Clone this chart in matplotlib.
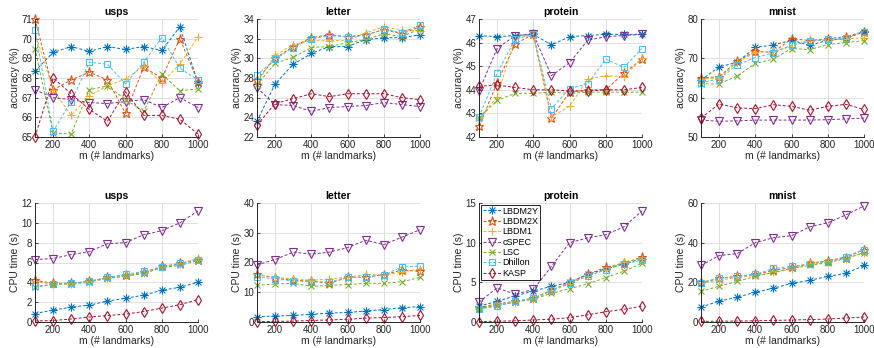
import matplotlib
matplotlib.use("Agg")
import matplotlib.pyplot as plt
from matplotlib.path import Path
import numpy as np

plt.rcParams['font.family'] = ['Liberation Sans', 'DejaVu Sans']

m = [100, 200, 300, 400, 500, 600, 700, 800, 900, 1000]
methods = ['LBDM2Y', 'LBDM2X', 'LBDM1', 'cSPEC', 'LSC', 'Dhillon', 'KASP']
datasets = ['usps', 'letter', 'protein', 'mnist']

# accuracy (%)
acc_usps = {
    'LBDM2Y': [68.35, 69.3, 69.6, 69.35, 69.6, 69.45, 69.6, 69.4, 70.6, 67.75],
    'LBDM2X': [71.0, 67.4, 67.9, 68.3, 67.9, 66.2, 68.55, 68.0, 70.0, 67.8],
    'LBDM1': [70.3, 67.4, 66.1, 67.1, 67.6, 67.95, 68.6, 67.75, 68.7, 70.1],
    'cSPEC': [67.4, 67.0, 66.9, 66.75, 66.7, 66.8, 66.9, 66.5, 67.0, 66.5],
    'LSC': [69.5, 65.2, 65.15, 67.4, 67.6, 66.9, 66.3, 68.2, 67.35, 67.45],
    'Dhillon': [70.45, 65.3, 66.8, 68.8, 68.7, 67.7, 68.8, 70.05, 68.5, 67.9],
    'KASP': [65.0, 68.0, 67.2, 66.4, 65.8, 67.3, 66.1, 66.1, 65.9, 65.15],
}
acc_letter = {
    'LBDM2Y': [23.6, 27.4, 29.4, 30.5, 31.2, 31.2, 31.9, 32.1, 32.1, 32.4],
    'LBDM2X': [27.8, 30.0, 31.2, 32.1, 32.4, 32.2, 32.4, 32.9, 32.5, 33.2],
    'LBDM1': [27.5, 30.3, 31.4, 31.8, 31.8, 31.8, 32.6, 33.2, 32.9, 32.8],
    'cSPEC': [27.0, 25.3, 25.2, 24.6, 25.0, 25.1, 25.2, 25.5, 25.3, 25.1],
    'LSC': [27.3, 29.5, 30.1, 31.1, 31.2, 31.6, 31.9, 32.5, 32.2, 33.0],
    'Dhillon': [28.3, 29.9, 31.1, 32.0, 32.3, 32.2, 32.3, 33.0, 32.6, 33.4],
    'KASP': [23.2, 25.4, 25.9, 26.4, 26.1, 26.4, 26.4, 26.4, 26.0, 25.8],
}
acc_protein = {
    'LBDM2Y': [46.3, 46.25, 46.3, 46.35, 45.9, 46.25, 46.3, 46.35, 46.35, 46.35],
    'LBDM2X': [42.45, 44.3, 45.95, 46.35, 42.8, 43.9, 44.0, 44.0, 44.7, 45.3],
    'LBDM1': [42.8, 43.7, 46.2, 46.3, 42.85, 43.3, 44.45, 44.6, 44.55, 45.35],
    'cSPEC': [43.95, 45.75, 46.3, 46.35, 44.6, 45.15, 46.1, 46.25, 46.3, 46.35],
    'LSC': [42.8, 43.55, 43.85, 43.85, 43.9, 43.85, 43.9, 43.9, 43.9, 43.9],
    'Dhillon': [42.85, 44.7, 46.15, 46.35, 43.2, 44.05, 44.25, 45.3, 44.95, 45.75],
    'KASP': [44.15, 44.2, 44.1, 44.0, 44.0, 43.95, 43.95, 44.0, 44.0, 44.1],
}
acc_mnist = {
    'LBDM2Y': [64.5, 67.8, 69.0, 72.8, 73.4, 74.6, 73.3, 74.6, 75.0, 76.8],
    'LBDM2X': [65.0, 65.3, 69.3, 71.8, 71.5, 75.0, 74.5, 75.0, 75.5, 76.8],
    'LBDM1': [64.8, 65.0, 69.0, 71.5, 71.8, 73.0, 74.8, 74.5, 75.0, 75.2],
    'cSPEC': [54.3, 54.0, 54.1, 54.3, 54.3, 54.3, 54.3, 54.4, 54.6, 54.8],
    'LSC': [63.5, 63.5, 65.5, 68.7, 69.8, 72.5, 72.2, 73.5, 74.0, 74.5],
    'Dhillon': [63.8, 64.8, 68.3, 70.2, 71.4, 73.4, 74.3, 74.8, 75.2, 76.8],
    'KASP': [54.8, 58.4, 57.4, 57.2, 58.2, 57.8, 56.8, 57.8, 58.3, 57.0],
}

# CPU time (s)
cpu_usps = {
    'LBDM2Y': [0.85, 1.2, 1.5, 1.7, 2.1, 2.4, 2.7, 3.2, 3.5, 4.0],
    'LBDM2X': [4.2, 3.9, 3.9, 4.1, 4.5, 4.7, 5.0, 5.6, 5.9, 6.3],
    'LBDM1': [4.1, 3.8, 3.8, 4.0, 4.4, 4.7, 4.9, 5.5, 5.8, 6.5],
    'cSPEC': [6.3, 6.4, 6.8, 7.1, 7.9, 8.0, 8.8, 9.2, 10.0, 11.2],
    'LSC': [3.5, 3.8, 3.9, 4.1, 4.4, 4.6, 4.9, 5.5, 5.7, 6.2],
    'Dhillon': [3.6, 3.8, 3.9, 4.1, 4.5, 4.8, 5.1, 5.5, 5.9, 6.3],
    'KASP': [0.1, 0.15, 0.3, 0.5, 0.65, 0.8, 1.05, 1.4, 1.75, 2.25],
}
cpu_letter = {
    'LBDM2Y': [1.8, 2.0, 2.2, 2.6, 3.0, 3.2, 3.7, 4.2, 4.8, 5.2],
    'LBDM2X': [16.0, 14.8, 14.0, 13.8, 13.0, 15.0, 15.2, 15.8, 17.5, 17.0],
    'LBDM1': [16.0, 15.0, 14.5, 14.0, 14.5, 15.0, 16.0, 15.8, 16.8, 17.8],
    'cSPEC': [19.2, 21.0, 23.5, 22.8, 23.5, 25.0, 27.5, 26.0, 28.5, 31.0],
    'LSC': [12.3, 12.8, 13.0, 12.0, 12.3, 12.6, 13.0, 13.0, 13.5, 15.0],
    'Dhillon': [15.2, 14.5, 13.8, 13.5, 13.5, 15.0, 15.0, 15.8, 18.5, 18.8],
    'KASP': [0.1, 0.2, 0.3, 0.5, 0.7, 0.9, 1.3, 1.5, 1.8, 2.2],
}
cpu_protein = {
    'LBDM2Y': [2.0, 2.6, 3.3, 3.9, 4.5, 5.0, 6.0, 6.7, 7.3, 8.0],
    'LBDM2X': [1.8, 2.3, 2.6, 3.0, 4.0, 5.0, 6.0, 6.9, 7.4, 8.2],
    'LBDM1': [1.7, 2.1, 2.5, 2.9, 3.9, 4.8, 5.8, 6.6, 7.6, 8.0],
    'cSPEC': [2.5, 4.3, 3.5, 4.1, 7.0, 10.0, 10.6, 11.0, 12.0, 14.0],
    'LSC': [1.7, 2.1, 2.5, 2.9, 3.6, 4.2, 4.8, 5.6, 6.4, 7.4],
    'Dhillon': [1.6, 2.0, 2.6, 3.0, 4.0, 4.9, 5.8, 6.6, 7.3, 7.8],
    'KASP': [0.05, 0.1, 0.15, 0.25, 0.35, 0.55, 0.9, 1.3, 1.6, 2.0],
}
cpu_mnist = {
    'LBDM2Y': [7.5, 10.5, 12.5, 15.0, 17.0, 19.5, 21.0, 23.0, 24.5, 28.5],
    'LBDM2X': [20.0, 22.0, 23.0, 24.0, 26.0, 27.5, 29.5, 31.0, 32.5, 36.5],
    'LBDM1': [19.5, 21.0, 22.5, 23.5, 25.0, 26.5, 29.5, 30.5, 32.0, 35.0],
    'cSPEC': [28.5, 33.5, 34.5, 40.0, 42.5, 43.5, 48.0, 50.0, 54.0, 58.5],
    'LSC': [15.5, 18.0, 20.5, 23.0, 25.0, 27.0, 28.5, 30.0, 32.0, 35.0],
    'Dhillon': [19.5, 22.0, 23.0, 24.0, 27.0, 28.0, 29.0, 30.5, 33.0, 36.5],
    'KASP': [0.3, 0.4, 0.5, 0.6, 0.8, 1.0, 1.2, 1.5, 2.0, 2.5],
}

acc_all = [acc_usps, acc_letter, acc_protein, acc_mnist]
cpu_all = [cpu_usps, cpu_letter, cpu_protein, cpu_mnist]

acc_ylim = [(65, 71), (22, 34), (42, 47), (50, 80)]
acc_yticks = [np.arange(65, 72, 1), np.arange(22, 35, 2), np.arange(42, 48, 1), np.arange(50, 81, 10)]
cpu_ylim = [(0, 12), (0, 40), (0, 15), (0, 60)]
cpu_yticks = [np.arange(0, 13, 2), np.arange(0, 41, 10), np.arange(0, 16, 5), np.arange(0, 61, 20)]

# MATLAB-like asterisk marker (+ overlaid with x)
_d = 0.707
asterisk = Path([(-1, 0), (1, 0), (0, -1), (0, 1), (-_d, -_d), (_d, _d), (-_d, _d), (_d, -_d)],
                [Path.MOVETO, Path.LINETO] * 4)

colors = {'LBDM2Y': '#0072BD', 'LBDM2X': '#D95319', 'LBDM1': '#EDB120',
          'cSPEC': '#7E2F8E', 'LSC': '#77AC30', 'Dhillon': '#4DBEEE', 'KASP': '#A2142F'}
markers = {'LBDM2Y': asterisk, 'LBDM2X': '*', 'LBDM1': '+', 'cSPEC': 'v',
           'LSC': 'x', 'Dhillon': 's', 'KASP': 'd'}
msizes = {'LBDM2Y': 6, 'LBDM2X': 6.5, 'LBDM1': 6, 'cSPEC': 5.5, 'LSC': 4, 'Dhillon': 4.5, 'KASP': 5}

W, H = 874, 348
fig = plt.figure(figsize=(W / 100, H / 100), dpi=100)

lefts = [35, 257, 479, 701]
axw = 163
rows = [(19, 137), (203, 322)]


def style(ax, ylim, yticks, ylabel, title):
    ax.set_xlim(100, 1000)
    ax.set_ylim(*ylim)
    ax.set_xticks([200, 400, 600, 800, 1000])
    ax.set_yticks(yticks)
    ax.grid(True, color='#e0e0e0', linewidth=0.7)
    ax.set_axisbelow(True)
    for s in ['top', 'right']:
        ax.spines[s].set_visible(False)
    for s in ['left', 'bottom']:
        ax.spines[s].set_color('#262626')
        ax.spines[s].set_linewidth(0.7)
    ax.tick_params(direction='in', length=2.5, width=0.6, labelsize=7,
                   colors='#262626', pad=2)
    ax.set_xlabel('m (# landmarks)', fontsize=7.5, color='#262626', labelpad=1)
    ax.set_ylabel(ylabel, fontsize=7.5, color='#262626', labelpad=1)
    ax.set_title(title, fontsize=7.5, fontweight='bold', pad=3)


for r, (data_all, ylims, ytks, ylabel) in enumerate([
        (acc_all, acc_ylim, acc_yticks, 'accuracy (%)'),
        (cpu_all, cpu_ylim, cpu_yticks, 'CPU time (s)')]):
    top, bot = rows[r]
    for c in range(4):
        ax = fig.add_axes([lefts[c] / W, 1 - bot / H, axw / W, (bot - top) / H])
        d = data_all[c]
        for meth in methods:
            ax.plot(m, d[meth], linestyle=(0, (3, 2)), linewidth=0.7, color=colors[meth],
                    marker=markers[meth], markersize=msizes[meth],
                    markerfacecolor='none', markeredgecolor=colors[meth],
                    markeredgewidth=0.8, label=meth, clip_on=False)
        style(ax, ylims[c], ytks[c], ylabel, datasets[c])
        if r == 1 and c == 2:
            leg = ax.legend(loc='upper left', fontsize=6.5, frameon=True, fancybox=False,
                            edgecolor='black', handlelength=2.0, handletextpad=0.2,
                            borderpad=0.2, labelspacing=0.15, borderaxespad=0.2,
                            framealpha=1)
            leg.get_frame().set_linewidth(0.6)

fig.savefig('out.png', dpi=100)
